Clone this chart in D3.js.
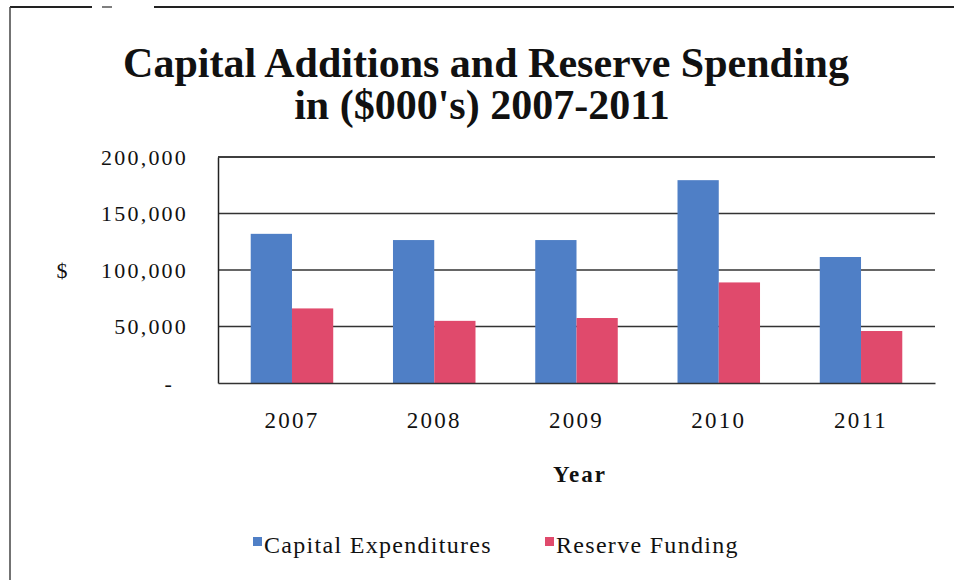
<!DOCTYPE html>
<html>
<head>
<meta charset="utf-8">
<script src="https://cdn.jsdelivr.net/npm/d3@7"></script>
<style>
  body { margin: 0; background: #fff; }
  text { font-family: "Liberation Serif", "Times New Roman", serif; fill: #111; }
</style>
</head>
<body>
<svg width="954" height="580"></svg>
<script>
// data
const years = ['2007', '2008', '2009', '2010', '2011'];
const seriesNames = ['Capital Expenditures', 'Reserve Funding'];
const capitalExpenditures = [132000, 126500, 126500, 179500, 111500];
const reserveFunding = [66000, 55000, 57500, 89000, 46000];
const yTicks = [0, 50000, 100000, 150000, 200000];
const colours = ['#4f7fc6', '#e04a6c'];

const svg = d3.select('svg');

// outer frame (scanned page edges)
svg.append('line').attr('x1', 10).attr('y1', 7).attr('x2', 92).attr('y2', 7)
  .attr('stroke', '#222').attr('stroke-width', 2);
svg.append('line').attr('x1', 102).attr('y1', 7).attr('x2', 112).attr('y2', 7)
  .attr('stroke', '#555').attr('stroke-width', 1.5);
svg.append('line').attr('x1', 154).attr('y1', 7).attr('x2', 954).attr('y2', 7)
  .attr('stroke', '#222').attr('stroke-width', 2);
svg.append('line').attr('x1', 10).attr('y1', 7).attr('x2', 10).attr('y2', 580)
  .attr('stroke', '#444').attr('stroke-width', 1.5);

// title
const title = svg.append('text')
  .attr('text-anchor', 'middle')
  .style('font-weight', 'bold')
  .style('font-size', '42px');
title.append('tspan').attr('x', 486).attr('y', 77).text('Capital Additions and Reserve Spending');
title.append('tspan').attr('x', 482).attr('y', 119).text("in ($000's) 2007-2011");

const margin = {top: 157, left: 218};
const graphWidth = 717;
const graphHeight = 226;
const graph = svg.append('g')
  .attr('transform', `translate(${margin.left},${margin.top})`);

const y = d3.scaleLinear()
  .domain([0, 200000])
  .range([graphHeight, 0]);

const x = d3.scaleBand()
  .domain(years)
  .range([0, graphWidth])
  .paddingInner(0.42)
  .paddingOuter(0.23);

const xSub = d3.scaleBand()
  .domain(seriesNames)
  .range([0, x.bandwidth()]);

// gridlines
graph.selectAll('line.grid')
  .data(yTicks.filter(d => d > 0))
  .enter()
  .append('line')
  .attr('class', 'grid')
  .attr('x1', 0)
  .attr('x2', graphWidth)
  .attr('y1', d => y(d))
  .attr('y2', d => y(d))
  .attr('stroke', '#333')
  .attr('stroke-width', 1.3);

// bars
const rows = years.map((yr, i) => ({
  year: yr,
  values: [capitalExpenditures[i], reserveFunding[i]]
}));

const groups = graph.selectAll('g.year')
  .data(rows)
  .enter()
  .append('g')
  .attr('class', 'year')
  .attr('transform', d => `translate(${x(d.year)},0)`);

groups.selectAll('rect')
  .data(d => d.values.map((v, j) => ({name: seriesNames[j], value: v, j: j})))
  .enter()
  .append('rect')
  .attr('x', d => xSub(d.name))
  .attr('width', xSub.bandwidth())
  .attr('y', d => y(d.value))
  .attr('height', d => graphHeight - y(d.value))
  .attr('fill', d => colours[d.j]);

// axes
const yAxis = d3.axisLeft(y)
  .tickValues(yTicks)
  .tickSize(0)
  .tickPadding(30)
  .tickFormat(d => d === 0 ? '-' : d3.format(',')(d));
const yAxisGroup = graph.append('g').call(yAxis);
yAxisGroup.select('.domain').attr('stroke', '#222').attr('stroke-width', 1.5);
yAxisGroup.selectAll('text')
  .style('font-size', '22px')
  .style('letter-spacing', '2.2px')
  .attr('fill', '#111')
  .style('font-family', '"Liberation Serif", serif');
yAxisGroup.selectAll('.tick')
  .filter(d => d === 0)
  .select('text')
  .attr('x', -44);

const xAxis = d3.axisBottom(x).tickSize(0).tickPadding(29);
const xAxisGroup = graph.append('g')
  .attr('transform', `translate(0,${graphHeight})`)
  .call(xAxis);
xAxisGroup.select('.domain').attr('stroke', '#333').attr('stroke-width', 1.5);
xAxisGroup.selectAll('text')
  .style('font-size', '23px')
  .style('letter-spacing', '2.2px')
  .attr('fill', '#111')
  .style('font-family', '"Liberation Serif", serif');

// top border of plot
graph.append('line')
  .attr('x1', 0).attr('x2', graphWidth)
  .attr('y1', 0).attr('y2', 0)
  .attr('stroke', '#333').attr('stroke-width', 1.5);

// axis titles
svg.append('text')
  .attr('x', 62).attr('y', 278)
  .attr('text-anchor', 'middle')
  .style('font-size', '22px')
  .text('$');

svg.append('text')
  .attr('x', 580).attr('y', 482)
  .attr('text-anchor', 'middle')
  .style('font-size', '23px')
  .style('font-weight', 'bold')
  .style('letter-spacing', '2px')
  .text('Year');

// legend
const legendX = [253, 545];
const legend = svg.selectAll('g.legend')
  .data(seriesNames)
  .enter()
  .append('g')
  .attr('class', 'legend')
  .attr('transform', (d, i) => `translate(${legendX[i]},537)`);

legend.append('rect')
  .attr('width', 9).attr('height', 9)
  .attr('fill', (d, i) => colours[i]);

legend.append('text')
  .attr('x', 11).attr('y', 16)
  .style('font-size', '24px')
  .style('letter-spacing', '1.3px')
  .text(d => d);
</script>
</body>
</html>
